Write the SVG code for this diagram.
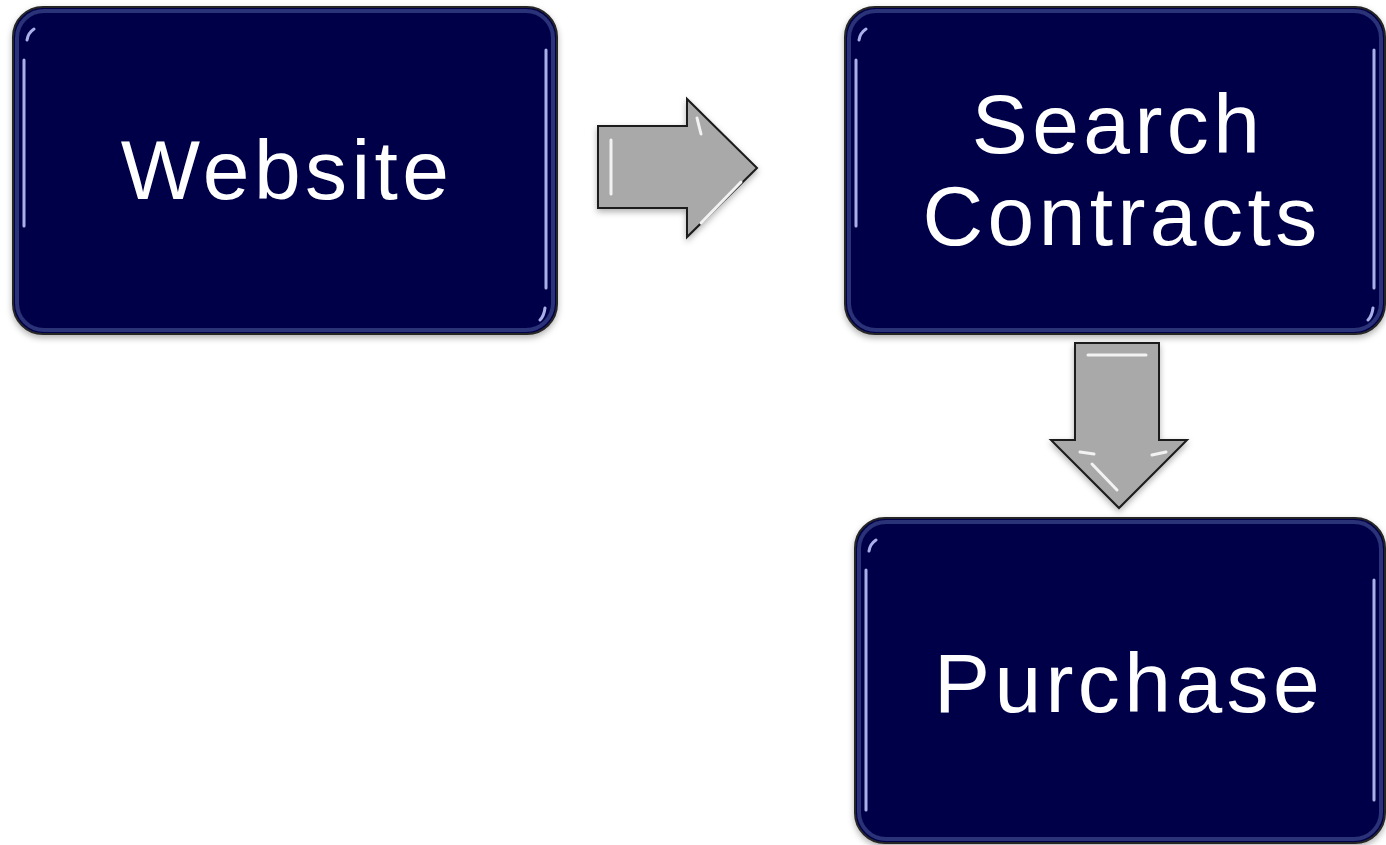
<svg xmlns="http://www.w3.org/2000/svg" width="1386" height="845" viewBox="0 0 1386 845">
<style>
.box{fill:#00004a;stroke:#262626;stroke-width:2}
.bevel{fill:none;stroke:#2c3078;stroke-width:4}
.hl{fill:none;stroke:#a9b0e8;stroke-width:3;stroke-linecap:round}
.lbl{font-family:"Liberation Sans",Arial,sans-serif;font-size:84px;fill:#ffffff;text-anchor:middle;letter-spacing:4.4px}
.arrow{fill:#a9a9a9;stroke:#1a1a1a;stroke-width:2;stroke-linejoin:miter}
.ahl{fill:none;stroke:#f2f2f2;stroke-width:3;stroke-linecap:round}
</style>
<defs>
<filter id="sh" x="-5%" y="-5%" width="110%" height="115%">
<feDropShadow dx="0" dy="3" stdDeviation="3" flood-color="#000" flood-opacity="0.3"/>
</filter>
</defs>
<g id="connectors">
<g id="arrow-right" filter="url(#sh)">
<polygon class="arrow" points="598,126 687,126 687,99 757,168 687,237 687,208 598,208"/>
<line class="ahl" x1="611" y1="140" x2="611" y2="194"/>
<line class="ahl" x1="697" y1="118" x2="701" y2="134"/>
<line class="ahl" x1="701" y1="223" x2="741" y2="182"/>
</g>
<g id="arrow-down" filter="url(#sh)">
<polygon class="arrow" points="1075,343 1159,343 1159,440 1187,440 1119,508 1051,440 1075,440"/>
<line class="ahl" x1="1088" y1="355" x2="1146" y2="355"/>
<line class="ahl" x1="1080" y1="452" x2="1094" y2="454"/>
<line class="ahl" x1="1152" y1="455" x2="1166" y2="452"/>
<line class="ahl" x1="1092" y1="464" x2="1117" y2="490"/>
</g>
</g>
<g id="node-website" filter="url(#sh)">
<rect class="box" x="13" y="7" width="544" height="327" rx="30"/>
<rect class="bevel" x="17" y="11" width="536" height="319" rx="27"/>
<path class="hl" d="M24,60 L24,226 M27,40 Q28,33 34,29"/>
<path class="hl" d="M546,50 L546,288 M545,308 Q544,316 540,320"/>
<text class="lbl" x="287" y="199">Website</text>
</g>
<g id="node-search" filter="url(#sh)">
<rect class="box" x="845" y="7" width="540" height="327" rx="30"/>
<rect class="bevel" x="849" y="11" width="532" height="319" rx="27"/>
<path class="hl" d="M856,60 L856,226 M859,40 Q860,33 866,29"/>
<path class="hl" d="M1374,50 L1374,288 M1373,308 Q1372,316 1368,320"/>
<text class="lbl" x="1118" y="153">Search</text>
<text class="lbl" x="1122" y="245">Contracts</text>
</g>
<g id="node-purchase" filter="url(#sh)">
<rect class="box" x="855" y="518" width="530" height="325" rx="30"/>
<rect class="bevel" x="859" y="522" width="522" height="317" rx="27"/>
<path class="hl" d="M866,570 L866,810 M869,551 Q870,544 876,540"/>
<path class="hl" d="M1374,580 L1374,800"/>
<text class="lbl" x="1129" y="712">Purchase</text>
</g>
</svg>
